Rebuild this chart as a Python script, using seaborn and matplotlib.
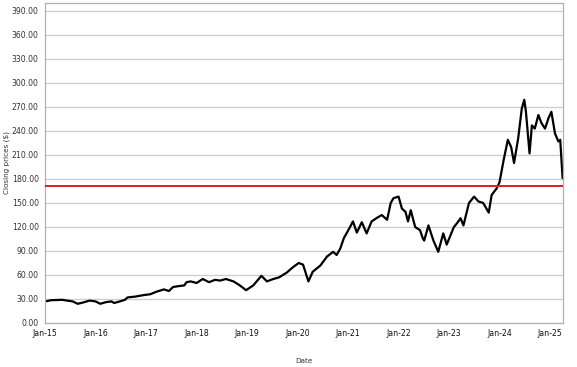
import matplotlib
matplotlib.use("Agg")
import matplotlib.pyplot as plt
import matplotlib.dates as mdates
from matplotlib.ticker import FormatStrFormatter
import seaborn as sns
import pandas as pd

dates = [
    "2015-01-02", "2015-02-15", "2015-03-25", "2015-05-05", "2015-06-10", "2015-07-20",
    "2015-08-25", "2015-10-01", "2015-11-20", "2016-01-01", "2016-02-05", "2016-03-15",
    "2016-04-25", "2016-05-15", "2016-06-25", "2016-08-01", "2016-08-20", "2016-10-15",
    "2016-11-15", "2016-12-20", "2017-02-01", "2017-03-15", "2017-05-10", "2017-06-15",
    "2017-07-15", "2017-08-20", "2017-10-05", "2017-10-20", "2017-11-20", "2018-01-01",
    "2018-02-15", "2018-04-01", "2018-05-15", "2018-06-20", "2018-08-01", "2018-09-25",
    "2018-11-10", "2018-12-25", "2019-02-15", "2019-04-15", "2019-05-25", "2019-07-10",
    "2019-08-20", "2019-10-15", "2019-12-01", "2020-01-10", "2020-02-10", "2020-03-20",
    "2020-04-20", "2020-06-15", "2020-08-01", "2020-09-15", "2020-10-10", "2020-11-05",
    "2020-12-01", "2021-01-15", "2021-02-05", "2021-03-05", "2021-04-10", "2021-05-15",
    "2021-06-20", "2021-07-25", "2021-09-01", "2021-10-10", "2021-11-05", "2021-11-25",
    "2022-01-01", "2022-01-25", "2022-02-20", "2022-03-10", "2022-03-30", "2022-05-01",
    "2022-06-05", "2022-06-25", "2022-07-05", "2022-08-05", "2022-09-10", "2022-10-15",
    "2022-11-20", "2022-12-15", "2023-02-05", "2023-03-01", "2023-03-25", "2023-04-15",
    "2023-05-25", "2023-07-01", "2023-08-01", "2023-09-05", "2023-10-15", "2023-11-05",
    "2023-12-10", "2024-01-01", "2024-01-30", "2024-03-01", "2024-03-25", "2024-04-15",
    "2024-05-15", "2024-06-10", "2024-06-28", "2024-07-10", "2024-08-05", "2024-08-22",
    "2024-09-12", "2024-10-08", "2024-10-30", "2024-11-25", "2024-12-20", "2025-01-10",
    "2025-02-05", "2025-03-01", "2025-03-15", "2025-04-01",
]
closing = [
    27, 28.5, 28.7, 29, 28, 27,
    24, 25.5, 28, 27, 24, 26,
    27, 25, 27, 29, 32, 33,
    34, 35, 36, 39, 42, 40,
    45, 46, 47, 51, 52, 50,
    55, 51, 54, 53, 55, 52,
    47, 41, 47, 59, 52, 55,
    57, 63, 70, 75, 73, 52,
    64, 72, 83, 89, 85, 93,
    106, 120, 127, 113, 126, 112,
    127, 131, 135, 129, 150, 156,
    158, 143, 139, 127, 141, 120,
    116, 106, 103, 122, 103, 89,
    112, 98, 120, 125, 131, 122,
    150, 158, 152, 150, 138, 160,
    168, 176, 203, 229, 220, 200,
    231, 268, 279, 264, 212, 247,
    243, 260, 250, 243, 256, 264,
    237, 227, 229, 181,
]
threshold = 171.25
y_ticks = [0, 30, 60, 90, 120, 150, 180, 210, 240, 270, 300, 330, 360, 390]

sns.set_style("white")
plt.rcParams['font.family'] = ['DejaVu Sans']

fig = plt.figure(figsize=(5.77, 3.67), dpi=100)
ax = fig.add_axes([45 / 577, 1 - 323 / 367, 518 / 577, 320 / 367])

df = pd.DataFrame({"Date": pd.to_datetime(dates), "Close": closing})
sns.lineplot(data=df, x="Date", y="Close", ax=ax, color="black", linewidth=1.6)
ax.axhline(threshold, color="#e41a1c", lw=1.4, zorder=3)

ax.set_ylim(0, 400)
ax.set_yticks(y_ticks)
ax.yaxis.set_major_formatter(FormatStrFormatter("%.2f"))
ax.xaxis.set_major_locator(mdates.YearLocator())
ax.xaxis.set_major_formatter(mdates.DateFormatter("%b-%y"))
ax.set_xlim(pd.Timestamp("2015-01-01"), pd.Timestamp("2025-04-04"))

ax.grid(axis="y", color="#cccccc", lw=0.9)
ax.set_axisbelow(True)
for s in ax.spines.values():
    s.set_color("#b0b0b0")
    s.set_linewidth(0.9)

ax.tick_params(axis="both", labelsize=5.6, colors="#333333", length=3, width=0.6, pad=1.5)
ax.tick_params(axis="x", labelcolor="#111111")
ax.set_ylabel("Closing prices ($)", fontsize=5.2, color="#333333")
ax.set_xlabel("Date", fontsize=5.2, color="#333333")
ax.yaxis.set_label_coords(-0.068, 0.5)
ax.xaxis.set_label_coords(0.5, -0.109)

fig.savefig("out.png", dpi=100)
